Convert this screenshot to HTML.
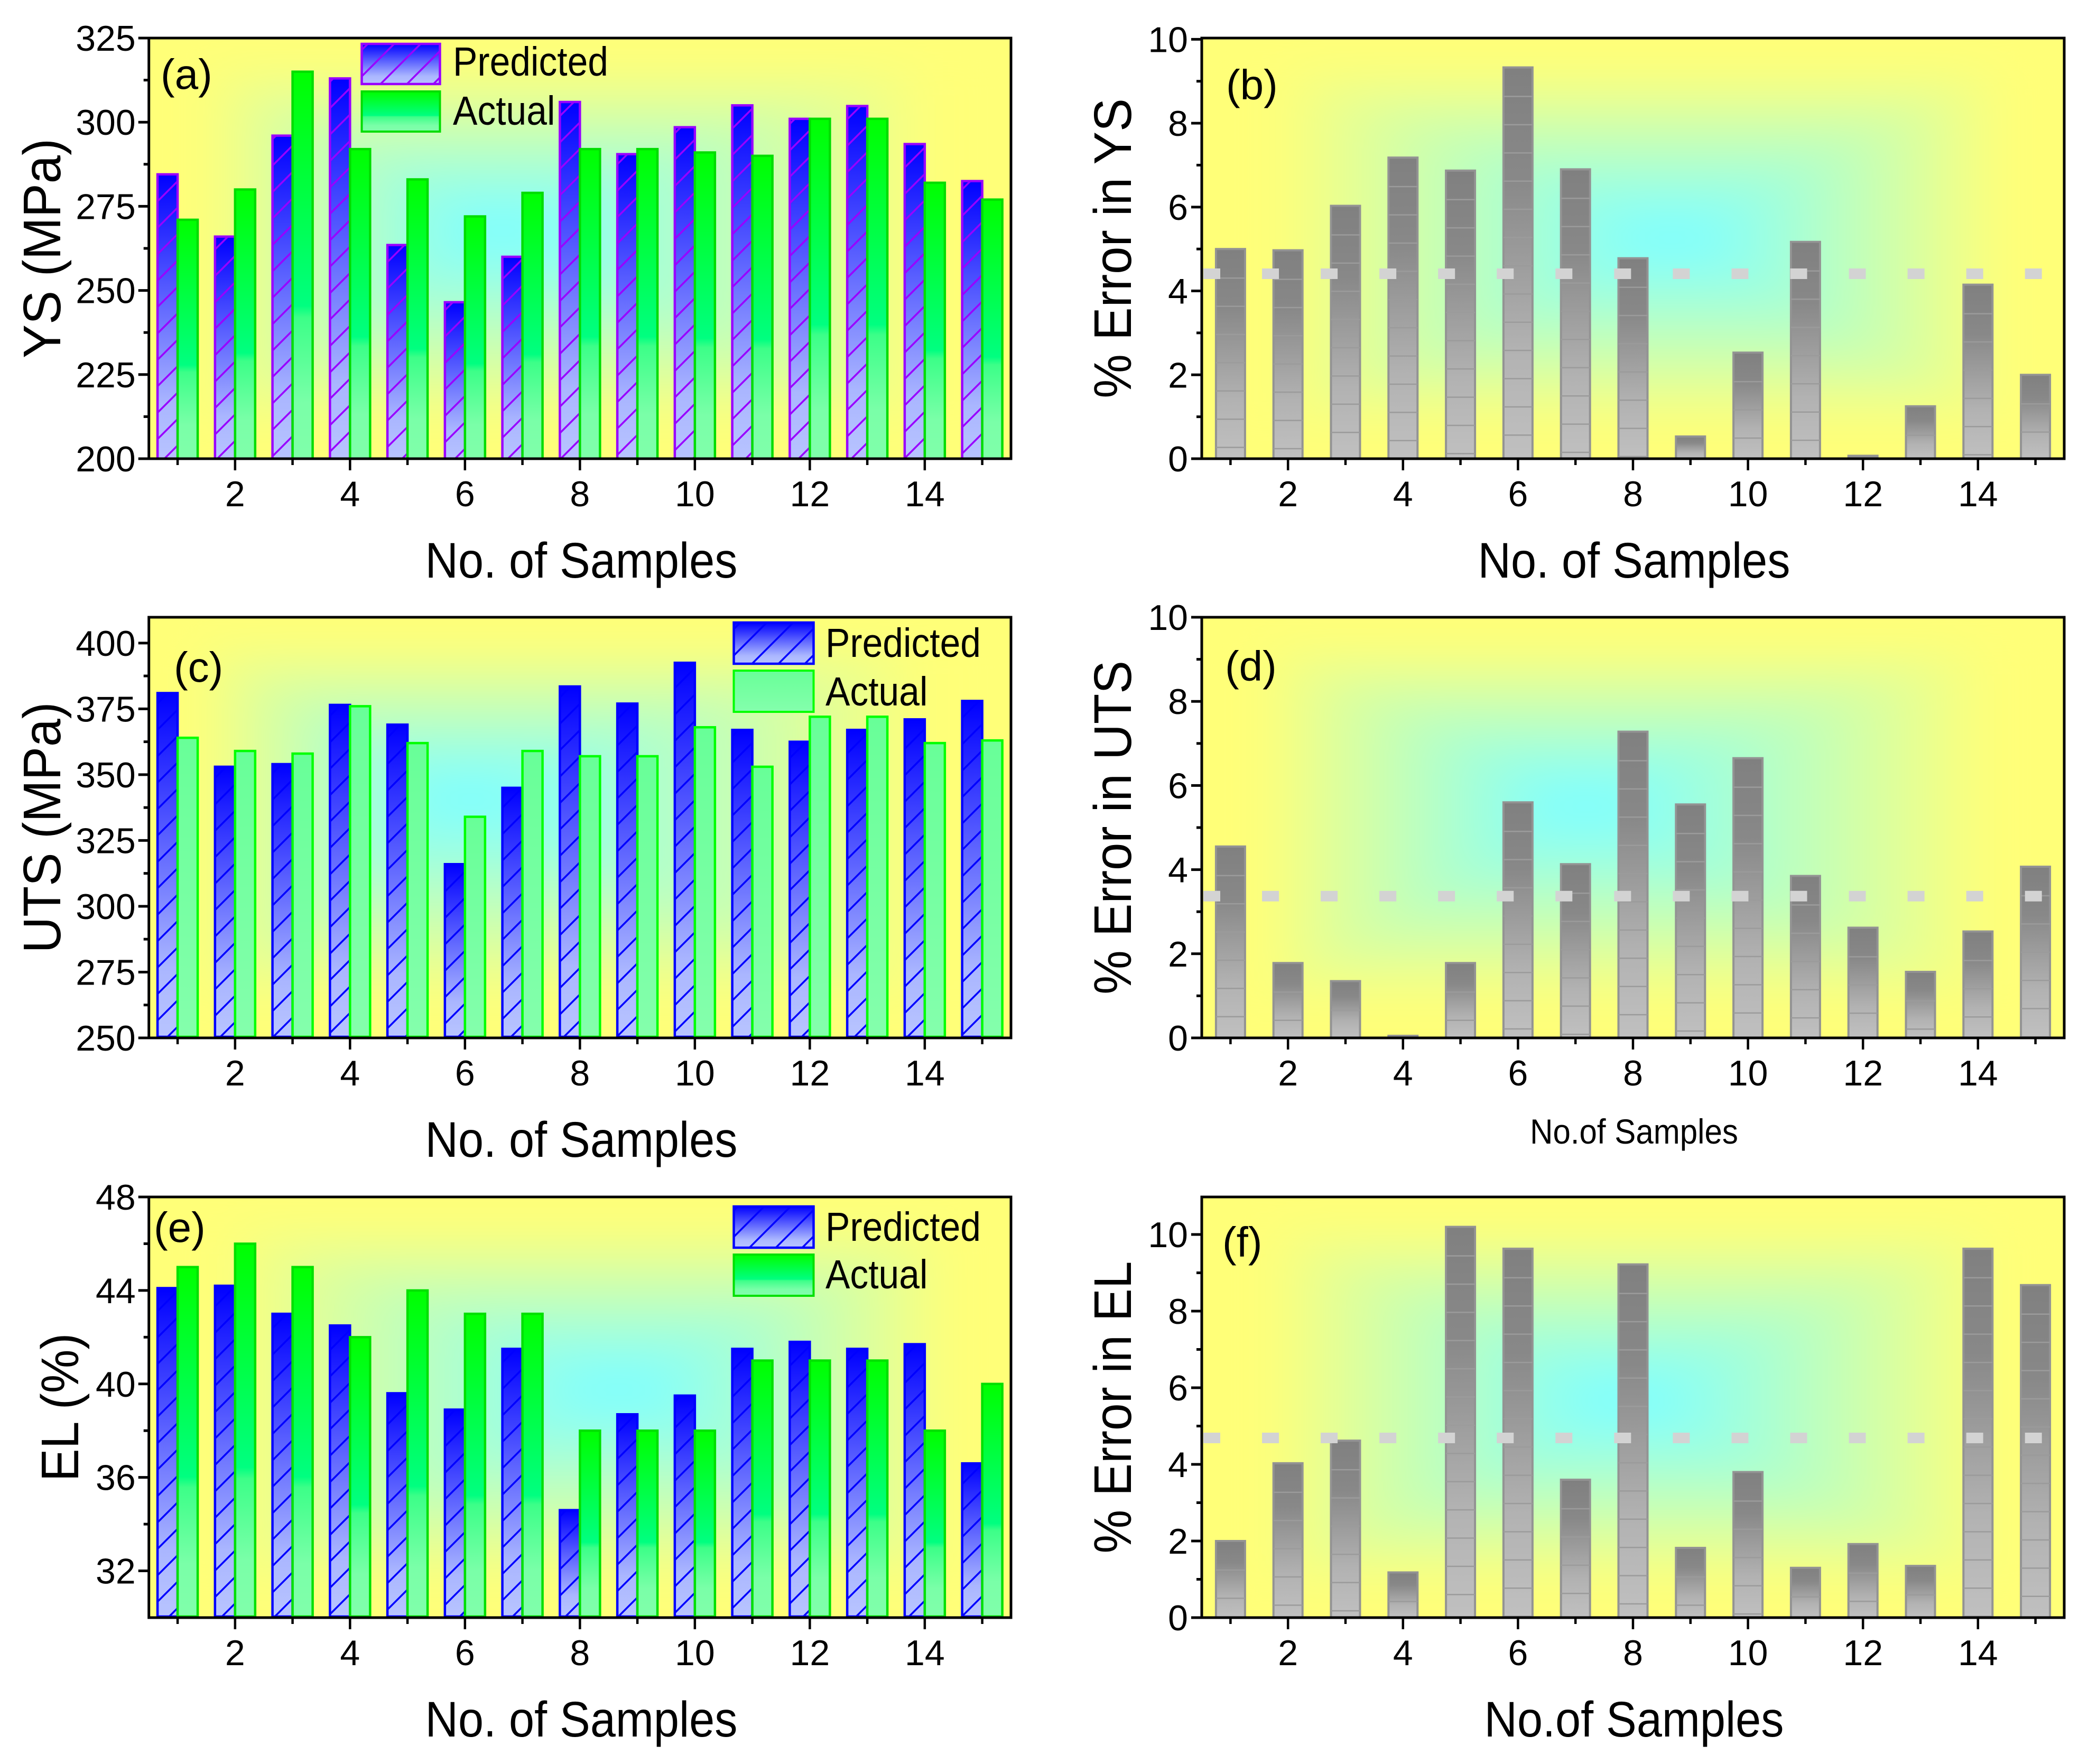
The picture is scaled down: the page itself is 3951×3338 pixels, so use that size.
<!DOCTYPE html>
<html lang="en">
<head>
<meta charset="utf-8">
<title>Predicted vs actual mechanical properties</title>
<style>
html,body{margin:0;padding:0;background:#fff;}
svg{display:block;}
text{font-family:"Liberation Sans",sans-serif;fill:#000;}
</style>
</head>
<body>
<svg id="figure" xmlns="http://www.w3.org/2000/svg" width="3951" height="3338" viewBox="0 0 3951 3338">
<defs>
  <linearGradient id="predGrad" x1="0" y1="0" x2="0" y2="1">
    <stop offset="0" stop-color="#0000ff"/><stop offset="0.8" stop-color="#aab6ff"/><stop offset="1" stop-color="#b8c4ff"/>
  </linearGradient>
  <linearGradient id="actualGrad" x1="0" y1="0" x2="0" y2="1">
    <stop offset="0" stop-color="#00ff00"/><stop offset="0.6" stop-color="#00ff80"/><stop offset="0.63" stop-color="#3cff88"/><stop offset="0.85" stop-color="#7affa8"/><stop offset="1" stop-color="#80ffaa"/>
  </linearGradient>
  <linearGradient id="actualPaleGrad" x1="0" y1="0" x2="0" y2="1">
    <stop offset="0" stop-color="#68ff98"/><stop offset="1" stop-color="#84ffac"/>
  </linearGradient>
  <linearGradient id="greyGrad" x1="0" y1="0" x2="0" y2="1">
    <stop offset="0" stop-color="#808080"/><stop offset="0.28" stop-color="#888888"/><stop offset="0.72" stop-color="#b2b2b2"/><stop offset="1" stop-color="#c0c0c0"/>
  </linearGradient>
  <pattern id="hatchPurple" patternUnits="userSpaceOnUse" width="50" height="50" patternTransform="translate(29,0)">
    <path d="M-5 5L5 -5M0 50L50 0M45 55L55 45" stroke="#9900ff" stroke-width="3.5" fill="none"/>
  </pattern>
  <pattern id="hatchBlue" patternUnits="userSpaceOnUse" width="50" height="50" patternTransform="translate(29,0)">
    <path d="M-5 5L5 -5M0 50L50 0M45 55L55 45" stroke="#0000ff" stroke-width="3.5" fill="none"/>
  </pattern>
  <filter id="softBg" filterUnits="userSpaceOnUse" x="0" y="0" width="3951" height="3338">
    <feGaussianBlur stdDeviation="45"/>
  </filter>
</defs>

<g id="panel-a"></g>
<g id="panel-b"></g>
<g id="panel-c"></g>
<g id="panel-d"></g>
<g id="panel-e"></g>
<g id="panel-f"></g>

<g id="annotations">
  <!-- panel labels -->
  <text x="304" y="168" font-size="80">(a)</text>
  <text x="2320" y="188" font-size="80">(b)</text>
  <text x="329" y="1290" font-size="80">(c)</text>
  <text x="2318" y="1288" font-size="80">(d)</text>
  <text x="291" y="2350" font-size="80">(e)</text>
  <text x="2313" y="2378" font-size="80">(f)</text>

  <!-- y axis titles -->
  <text transform="translate(114,470) rotate(-90) scale(0.96,1)" text-anchor="middle" font-size="100">YS (MPa)</text>
  <text transform="translate(2140,470) rotate(-90) scale(0.94,1)" text-anchor="middle" font-size="100">% Error in YS</text>
  <text transform="translate(114,1566) rotate(-90) scale(0.95,1)" text-anchor="middle" font-size="100">UTS (MPa)</text>
  <text transform="translate(2140,1566) rotate(-90) scale(0.94,1)" text-anchor="middle" font-size="100">% Error in UTS</text>
  <text transform="translate(148,2663) rotate(-90) scale(0.93,1)" text-anchor="middle" font-size="100">EL (%)</text>
  <text transform="translate(2140,2663) rotate(-90) scale(0.93,1)" text-anchor="middle" font-size="100">% Error in EL</text>

  <!-- x axis titles -->
  <text transform="translate(1100,1093) scale(0.91,1)" text-anchor="middle" font-size="95">No. of Samples</text>
  <text transform="translate(3092,1093) scale(0.91,1)" text-anchor="middle" font-size="95">No. of Samples</text>
  <text transform="translate(1100,2189) scale(0.91,1)" text-anchor="middle" font-size="95">No. of Samples</text>
  <text transform="translate(3092,2164) scale(0.91,1)" text-anchor="middle" font-size="66">No.of Samples</text>
  <text transform="translate(1100,3286) scale(0.91,1)" text-anchor="middle" font-size="95">No. of Samples</text>
  <text transform="translate(3092,3286) scale(0.91,1)" text-anchor="middle" font-size="95">No.of Samples</text>

  <!-- legend a -->
  <g>
    <g>
      <rect x="684.5" y="83" width="148" height="76" fill="url(#predGrad)"/>
      <rect x="684.5" y="83" width="148" height="76" fill="url(#hatchPurple)" stroke="#9900ff" stroke-width="4.5"/>
    </g>
    <text transform="translate(857,143) scale(0.904,1)" font-size="77">Predicted</text>
    <rect x="684.5" y="173" width="148" height="76" fill="url(#actualGrad)" stroke="#00dd00" stroke-width="4"/>
    <text transform="translate(857,236) scale(0.904,1)" font-size="77">Actual</text>
  </g>
  <!-- legend c -->
  <g>
    <g>
      <rect x="1388.5" y="1178" width="151" height="78" fill="url(#predGrad)"/>
      <rect x="1388.5" y="1178" width="151" height="78" fill="url(#hatchBlue)" stroke="#0000ff" stroke-width="4.5"/>
    </g>
    <text transform="translate(1562,1243) scale(0.904,1)" font-size="77">Predicted</text>
    <rect x="1388.5" y="1269" width="151" height="78" fill="url(#actualPaleGrad)" stroke="#00ff00" stroke-width="4"/>
    <text transform="translate(1562,1335) scale(0.904,1)" font-size="77">Actual</text>
  </g>
  <!-- legend e -->
  <g>
    <g>
      <rect x="1388.5" y="2283" width="151" height="78" fill="url(#predGrad)"/>
      <rect x="1388.5" y="2283" width="151" height="78" fill="url(#hatchBlue)" stroke="#0000ff" stroke-width="4.5"/>
    </g>
    <text transform="translate(1562,2348) scale(0.904,1)" font-size="77">Predicted</text>
    <rect x="1388.5" y="2374" width="151" height="78" fill="url(#actualGrad)" stroke="#00e000" stroke-width="4"/>
    <text transform="translate(1562,2438) scale(0.904,1)" font-size="77">Actual</text>
  </g>
</g>
</svg>

<script>
// ---- chart data ----
const categories = [1,2,3,4,5,6,7,8,9,10,11,12,13,14,15];
const xTickLabels = [2,4,6,8,10,12,14];

const predictedYS = [284.5,266,296,313,263.5,246.5,260,306,290.5,298.5,305,301,304.8,293.5,282.5];
const actualYS    = [271,280,315,292,283,272,279,292,292,291,290,301,301,282,277];
const errorYS     = [5.0,4.97,6.03,7.18,6.87,9.33,6.9,4.78,0.53,2.53,5.17,0.07,1.25,4.15,2.0];
const meanErrorYS = [4.41];

const predictedUTS = [381,353,354,376.5,369,316,345,383.5,377,392.5,367,362.5,367,371,378];
const actualUTS    = [364,359,358,376,362,334,359,357,357,368,353,372,372,362,363];
const errorUTS     = [4.55,1.78,1.35,0.05,1.78,5.6,4.13,7.28,5.55,6.65,3.85,2.62,1.57,2.53,4.07];
const meanErrorUTS = [3.37];

const predictedEL = [44.1,44.2,43,42.5,39.6,38.9,41.5,34.6,38.7,39.5,41.5,41.8,41.5,41.7,36.6];
const actualEL    = [45,46,45,42,44,43,43,38,38,38,41,41,41,38,40];
const errorEL     = [2.0,4.03,4.62,1.18,10.2,9.63,3.6,9.22,1.82,3.8,1.3,1.92,1.35,9.63,8.68];
const meanErrorEL = [4.69];

const yTicksYS  = [200,225,250,275,300,325];
const yTicksUTS = [250,275,300,325,350,375,400];
const yTicksEL  = [32,36,40,44,48];
const yTicksErr = [0,2,4,6,8,10];

// ---- helpers ----
const NS = 'http://www.w3.org/2000/svg';
function make(tag, geom, parent){
  const el = document.createElementNS(NS, tag);
  for (const k in geom) el.setAttribute(k, geom[k]);
  parent.appendChild(el);
  return el;
}
function xScaleFor(p){ const step=(p.right-p.left)/15; return v => p.left + (v-0.5)*step; }
function yScaleFor(p){ return v => p.bottom - (v-p.yMin)*(p.bottom-p.top)/(p.yMax-p.yMin); }

function drawBackground(p, root){
  const clip = make('clipPath', {id:'clip-'+p.id}, root);
  make('rect', {x:p.left, y:p.top, width:p.right-p.left, height:p.bottom-p.top}, clip);
  const g = make('g', {'clip-path':'url(#clip-'+p.id+')'}, root);
  
  
  make('rect', {x:p.left, y:p.top, width:p.right-p.left, height:p.bottom-p.top, fill:'#ffff78'}, g);
  const cx = p.left + p.cx*(p.right-p.left), cy = p.top + p.cy*(p.bottom-p.top);
  const sides = [
    {id:'t', x2:cx, y2:p.top,    pts:[[p.left,p.top],[p.right,p.top]]},
    {id:'b', x2:cx, y2:p.bottom, pts:[[p.right,p.bottom],[p.left,p.bottom]]},
    {id:'l', x2:p.left,  y2:cy,  pts:[[p.left,p.bottom],[p.left,p.top]]},
    {id:'r', x2:p.right, y2:cy,  pts:[[p.right,p.top],[p.right,p.bottom]]}
  ];
  const soft = make('g', {filter:'url(#softBg)'}, g);
  sides.forEach(s => {
    const gid = 'bg-'+p.id+'-'+s.id;
    const lg = make('linearGradient', {id:gid, gradientUnits:'userSpaceOnUse', x1:cx, y1:cy, x2:s.x2, y2:s.y2}, root);
    make('stop', {offset:0.06, 'stop-color':'#80ffff'}, lg);
    make('stop', {offset:0.85, 'stop-color':'#ffff78'}, lg);
    const pts = [[cx,cy]].concat(s.pts).map(a => a.join(',')).join(' ');
    make('polygon', {points:pts, fill:'url(#'+gid+')'}, soft);
  });
}

function drawAxes(p, root, yTicks, minorStep){
  const x = xScaleFor(p), y = yScaleFor(p);
  const ax = make('g', {}, root);
  
  
  const frame = make('rect', {x:p.left, y:p.top, width:p.right-p.left, height:p.bottom-p.top, fill:'none', stroke:'#000', 'stroke-width':5}, ax);
  
  

  categories.forEach(c => {
    const major = c % 2 === 0;
    const t = make('line', {x1:x(c), x2:x(c), y1:p.bottom, y2:p.bottom + (major ? 22 : 12), stroke:'#000', 'stroke-width':4.5}, ax);
    
    
  });
  xTickLabels.forEach(c => {
    const t = make('text', {x:x(c), y:p.bottom+90, 'text-anchor':'middle', 'font-size':68}, ax);
    t.textContent = c;
    
    
  });
  yTicks.forEach(v => {
    const t = make('line', {x1:p.left-20, x2:p.left, y1:y(v), y2:y(v), stroke:'#000', 'stroke-width':5}, ax);
    
    
    const l = make('text', {x:p.left-p.labelGap, y:y(v)+24, 'text-anchor':'end', 'font-size':68}, ax);
    l.textContent = v;
    
    
    const m = v + minorStep;
    if (m < p.yMax) {
      const mt = make('line', {x1:p.left-10, x2:p.left, y1:y(m), y2:y(m), stroke:'#000', 'stroke-width':5}, ax);
      
      
    }
    const m2 = v - minorStep;
    if (v === yTicks[0] && m2 > p.yMin) {
      const mt2 = make('line', {x1:p.left-10, x2:p.left, y1:y(m2), y2:y(m2), stroke:'#000', 'stroke-width':5}, ax);
      
      
    }
  });
}

function drawPairBars(p, pred, actual, yTicks, minorStep){
  const root = document.getElementById('panel-'+p.id);
  drawBackground(p, root);
  const x = xScaleFor(p), y = yScaleFor(p);
  const gp = make('g', {'clip-path':'url(#clip-'+p.id+')'}, root);
  
  
  const ga = make('g', {'clip-path':'url(#clip-'+p.id+')'}, root);
  
  
  const base = p.bottom - p.baseInset;
  categories.forEach((c,i) => {
    const px = x(c) - 38, ax = x(c);
    const pt = y(pred[i]);
    const fill = make('rect', {x:px, y:pt, width:38, height:base-pt, fill:'url(#predGrad)'}, gp);
    
    
    const bar = make('rect', {x:px, y:pt, width:38, height:base-pt, fill:'url(#'+p.hatch+')', stroke:p.predStroke, 'stroke-width':4.5}, gp);
    
    
    const at = y(actual[i]);
    const bar2 = make('rect', {x:ax, y:at, width:38, height:base-at, fill:'url(#'+p.actualFill+')', stroke:p.actualStroke, 'stroke-width':4.5}, ga);
    
    
  });
  drawAxes(p, root, yTicks, minorStep);
}

function drawErrorBars(p, errors, mean, yTicks, minorStep){
  const root = document.getElementById('panel-'+p.id);
  drawBackground(p, root);
  const x = xScaleFor(p), y = yScaleFor(p);
  const g = make('g', {'clip-path':'url(#clip-'+p.id+')'}, root);
  
  
  categories.forEach((c,i) => {
    const top = y(errors[i]);
    const bar = make('rect', {x:x(c)-27.5, y:top, width:55, height:p.bottom-top, fill:'url(#greyGrad)', stroke:'#939393', 'stroke-width':4}, g);
    
    
    for (let ly = top + 55; ly < p.bottom; ly += 53.4) {
      const seg = make('line', {x1:x(c)-27.5, x2:x(c)+27.5, y1:ly, y2:ly, stroke:'#9b9b9b', 'stroke-width':2.5}, g);
      
      
    }
  });
  const ml = make('line', {x1:p.left+3, x2:p.left+3+14*111.05+32, y1:y(mean[0]), y2:y(mean[0]), stroke:'#d3d3d3', 'stroke-width':20, 'stroke-dasharray':'32 79.05'}, root);
  
  
  drawAxes(p, root, yTicks, minorStep);
}

const L = 281.7, R = 1913, L2 = 2274, R2 = 3906;

drawPairBars({id:'a', left:L, right:R, top:72, bottom:868, yMin:200, yMax:325, cx:0.40, cy:0.45, baseInset:-6, labelGap:25,
  hatch:'hatchPurple', predStroke:'#9900ff', actualFill:'actualGrad', actualStroke:'#00dd00'},
  predictedYS, actualYS, yTicksYS, 12.5);
drawErrorBars({id:'b', left:L2, right:R2, top:72, bottom:868, yMin:0, yMax:10.03, cx:0.55, cy:0.47, labelGap:26},
  errorYS, meanErrorYS, yTicksErr, 1);

drawPairBars({id:'c', left:L, right:R, top:1168, bottom:1964, yMin:250, yMax:409.8, cx:0.36, cy:0.42, baseInset:2, labelGap:25,
  hatch:'hatchBlue', predStroke:'#0000ff', actualFill:'actualPaleGrad', actualStroke:'#00ff00'},
  predictedUTS, actualUTS, yTicksUTS, 12.5);
drawErrorBars({id:'d', left:L2, right:R2, top:1168, bottom:1964, yMin:0, yMax:10.0, cx:0.44, cy:0.44, labelGap:26},
  errorUTS, meanErrorUTS, yTicksErr, 1);

drawPairBars({id:'e', left:L, right:R, top:2265, bottom:3061, yMin:30, yMax:48, cx:0.55, cy:0.45, baseInset:2, labelGap:25,
  hatch:'hatchBlue', predStroke:'#0000ff', actualFill:'actualGrad', actualStroke:'#00e000'},
  predictedEL, actualEL, yTicksEL, 2);
drawErrorBars({id:'f', left:L2, right:R2, top:2265, bottom:3061, yMin:0, yMax:10.98, cx:0.49, cy:0.48, labelGap:26},
  errorEL, meanErrorEL, yTicksErr, 1);
</script>
</body>
</html>
